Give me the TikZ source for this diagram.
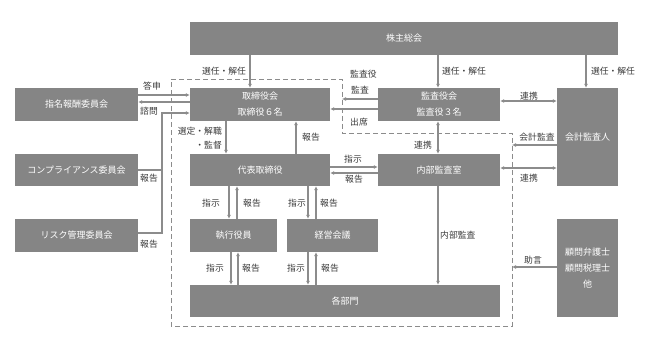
\documentclass[tikz,border=0pt]{standalone}
\usepackage{fontspec}
\setmainfont{Noto Sans CJK JP}
\usetikzlibrary{arrows.meta}
\definecolor{boxgray}{HTML}{858585}
\definecolor{linegray}{HTML}{8C8C8C}
\definecolor{framegray}{HTML}{8C8C8C}
\definecolor{lbltxt}{HTML}{3A3A3A}
\begin{document}
\begin{tikzpicture}[x=1pt,y=-1pt,
 box/.style={fill=boxgray, text=white, inner sep=0pt, font=\fontsize{9}{16}\selectfont, align=center},
 lbl/.style={text=lbltxt, inner sep=0pt, font=\fontsize{8.8}{14}\selectfont},
 arr/.style={draw=linegray, line width=1.1pt, -{Latex[length=4pt,width=4pt]}},
 darr/.style={draw=linegray, line width=1.1pt, {Latex[length=4pt,width=4pt]}-{Latex[length=4pt,width=4pt]}},
 ln/.style={draw=linegray, line width=1.1pt},
 frame/.style={draw=framegray, line width=0.9pt, dash pattern=on 5pt off 3pt}]
\useasboundingbox (0,0) rectangle (645,352);
% frame
\coordinate (f1) at (171,79);
\coordinate (f2) at (342,79);
\coordinate (f3) at (342,133);
\coordinate (f4) at (512,133);
\coordinate (f5) at (512,326);
\coordinate (f6) at (171,326);
\draw[frame] (f1) -- (f2) -- (f3) -- (f4) -- (f5) -- (f6) -- cycle;
% boxes
\node[box, minimum width=428pt, minimum height=33pt] (kabu) at (404,38.5) {株主総会};
\node[box, minimum width=123pt, minimum height=33pt] (shimei) at (76.5,104.5) {指名報酬委員会};
\node[box, minimum width=123pt, minimum height=32pt] (comp) at (76.5,170) {コンプライアンス委員会};
\node[box, minimum width=123pt, minimum height=33pt] (risk) at (76.5,235.5) {リスク管理委員会};
\node[box, minimum width=140pt, minimum height=33pt] (tori) at (260,104.5) {取締役会\\取締役６名};
\node[box, minimum width=122pt, minimum height=33pt] (kansa) at (439,104.5) {監査役会\\監査役３名};
\node[box, minimum width=61pt, minimum height=98pt] (kaikei) at (587.5,137) {会計監査人};
\node[box, minimum width=140pt, minimum height=32pt] (daihyo) at (260,170) {代表取締役};
\node[box, minimum width=122pt, minimum height=32pt] (naibu) at (439,170) {内部監査室};
\node[box, minimum width=87pt, minimum height=33pt] (shikko) at (233.5,235.5) {執行役員};
\node[box, minimum width=91pt, minimum height=33pt] (keiei) at (332.5,235.5) {経営会議};
\node[box, minimum width=310pt, minimum height=32pt] (kakubu) at (345,301) {各部門};
\node[box, minimum width=61pt, minimum height=98pt] (komon) at (587.5,268) {顧問弁護士\\顧問税理士\\他};
% connectors
\draw[arr] (250,0 |- kabu.south) -- (250,0 |- tori.north);
\draw[arr] (438,0 |- kabu.south) -- (438,0 |- kansa.north);
\draw[arr] (586,0 |- kabu.south) -- (586,0 |- kaikei.north);
\draw[arr] (shimei.east |- 0,95) -- (tori.west |- 0,95);
\draw[arr] (tori.west |- 0,102) -- (shimei.east |- 0,102);
\draw[ln] (comp.east) -- (162,0 |- comp.east);
\draw[arr] (risk.east |- 0,233) -- (162,233) -- (162,113) -- (tori.west |- 0,113);
\draw[arr] (226,0 |- tori.south) -- (226,0 |- daihyo.north);
\draw[arr] (296,0 |- daihyo.north) -- (296,0 |- tori.south);
\draw[arr] (kansa.west |- 0,99) -- (f2 |- 0,99);
\draw[arr] (kansa.west |- 0,109) -- (tori.east |- 0,109);
\draw[darr] (kansa.east |- 0,101) -- (kaikei.west |- 0,101);
\draw[darr] (438,0 |- kansa.south) -- (438,0 |- naibu.north);
\draw[arr] (kaikei.west |- 0,145) -- (f4 |- 0,145);
\draw[darr] (naibu.east |- 0,168) -- (kaikei.west |- 0,168);
\draw[arr] (daihyo.east |- 0,167) -- (naibu.west |- 0,167);
\draw[arr] (naibu.west |- 0,173) -- (daihyo.east |- 0,173);
\draw[arr] (438,0 |- naibu.south) -- (438,0 |- kakubu.north);
\draw[arr] (komon.west |- 0,267) -- (f4 |- 0,267);
\draw[arr] (229,0 |- daihyo.south) -- (229,0 |- shikko.north);
\draw[arr] (237,0 |- shikko.north) -- (237,0 |- daihyo.south);
\draw[arr] (308,0 |- daihyo.south) -- (308,0 |- keiei.north);
\draw[arr] (316,0 |- keiei.north) -- (316,0 |- daihyo.south);
\draw[arr] (231,0 |- shikko.south) -- (231,0 |- kakubu.north);
\draw[arr] (238,0 |- kakubu.north) -- (238,0 |- shikko.south);
\draw[arr] (308,0 |- keiei.south) -- (308,0 |- kakubu.north);
\draw[arr] (316,0 |- kakubu.north) -- (316,0 |- keiei.south);
% labels
\node[lbl] (l1) at (224,71) {選任・解任};
\node[lbl] (l2) at (464,71) {選任・解任};
\node[lbl] (l3) at (613,71) {選任・解任};
\node[lbl] (l4) at (152,86) {答申};
\node[lbl] (l5) at (149,111) {諮問};
\node[lbl] (l6) at (149,178) {報告};
\node[lbl] (l7) at (149,244) {報告};
\node[lbl, anchor=east, align=right] (l8) at (222,138.5) {選定・解職\\・監督};
\node[lbl] (l9) at (311,137) {報告};
\node[lbl, anchor=west] (l10) at (350,74) {監査役};
\node[lbl, anchor=west] (l11) at (351,90) {監査};
\node[lbl, anchor=west] (l12) at (350,122.5) {出席};
\node[lbl] (l13) at (529,96) {連携};
\node[lbl] (l14) at (423,145.5) {連携};
\node[lbl] (l15) at (537,137) {会計監査};
\node[lbl] (l16) at (529,178) {連携};
\node[lbl] (l17) at (353,159) {指示};
\node[lbl] (l18) at (354,179) {報告};
\node[lbl, anchor=west] (l19) at (440,235.5) {内部監査};
\node[lbl] (l20) at (533,260) {助言};
\node[lbl] (l21) at (211,203) {指示};
\node[lbl] (l22) at (252,203) {報告};
\node[lbl] (l23) at (297,203) {指示};
\node[lbl] (l24) at (329,203) {報告};
\node[lbl] (l25) at (215,268) {指示};
\node[lbl] (l26) at (251,268) {報告};
\node[lbl] (l27) at (296,268) {指示};
\node[lbl] (l28) at (330,268) {報告};
\end{tikzpicture}
\end{document}
